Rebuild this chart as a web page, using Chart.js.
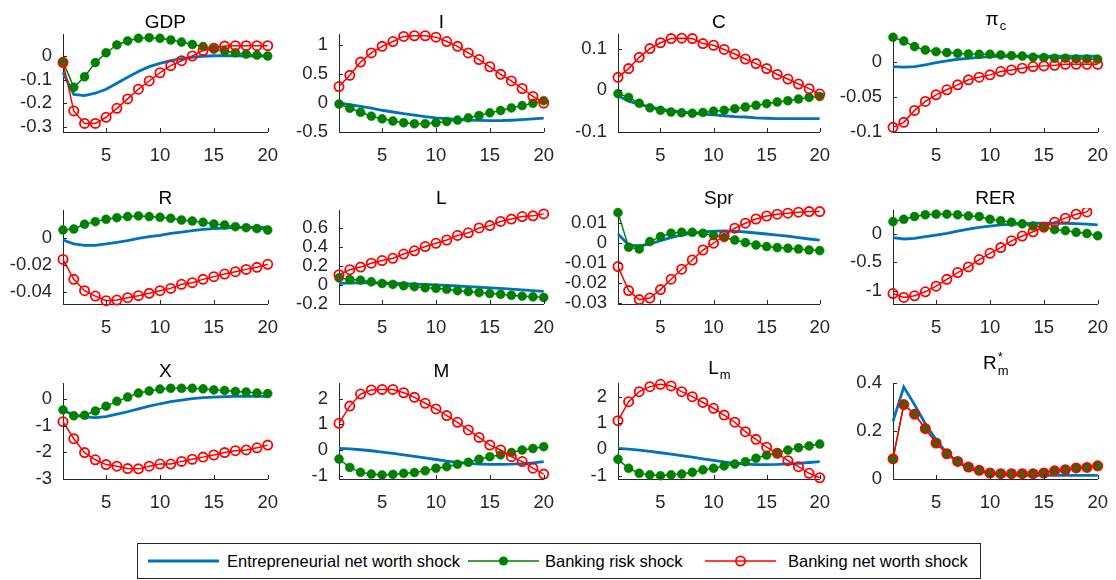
<!DOCTYPE html>
<html><head><meta charset="utf-8">
<script src="https://cdn.jsdelivr.net/npm/chart.js@4/dist/chart.umd.min.js"></script>
<style>
body{margin:0;background:#fff;width:1116px;height:580px;position:relative;overflow:hidden;font-family:'Liberation Sans',Arial,sans-serif;}
canvas{position:absolute;}
#legend{position:absolute;left:137px;top:543px;width:844px;height:36px;border:1px solid #262626;box-sizing:border-box;background:#fff;}
.lt{position:absolute;top:0;height:34px;line-height:34px;font-size:16.5px;color:#000;white-space:nowrap;}
#legend svg{position:absolute;top:0;}
</style></head><body>
<div id="legend">
  <svg style="left:10px" width="72" height="34"><line x1="0" y1="17" x2="71" y2="17" stroke="#0072BD" stroke-width="2.8"/></svg>
  <span class="lt" style="left:89px">Entrepreneurial net worth shock</span>
  <svg style="left:330px" width="72" height="34"><line x1="0" y1="17" x2="71" y2="17" stroke="#008000" stroke-width="1.5"/><circle cx="35.5" cy="17" r="4.6" fill="#008000"/></svg>
  <span class="lt" style="left:407px">Banking risk shock</span>
  <svg style="left:567px" width="72" height="34"><line x1="0" y1="17" x2="71" y2="17" stroke="#FF0000" stroke-width="1.5"/><circle cx="35.5" cy="17" r="4.6" fill="none" stroke="#FF0000" stroke-width="1.8"/></svg>
  <span class="lt" style="left:650px">Banking net worth shock</span>
</div>
<script>
// ---------------- data ----------------
const periods = [1,2,3,4,5,6,7,8,9,10,11,12,13,14,15,16,17,18,19,20];
const seriesNames = ['Entrepreneurial net worth shock','Banking risk shock','Banking net worth shock'];
const xTickValues = [5,10,15,20];

const gdpEntre = [-0.07,-0.163,-0.168,-0.158,-0.141,-0.116,-0.09,-0.066,-0.045,-0.031,-0.02,-0.011,-0.006,-0.001,0.001,0.001,0.001,0,0,0];
const gdpRisk  = [-0.024,-0.133,-0.088,-0.028,0.014,0.047,0.064,0.075,0.078,0.075,0.068,0.059,0.049,0.04,0.03,0.021,0.014,0.008,0.004,0];
const gdpNet   = [-0.028,-0.233,-0.286,-0.286,-0.26,-0.222,-0.182,-0.141,-0.106,-0.071,-0.041,-0.02,0,0.023,0.033,0.042,0.044,0.044,0.044,0.044];
const gdpTicks = [-0.3,-0.2,-0.1,0];

const iEntre = [0,-0.03,-0.06,-0.09,-0.125,-0.155,-0.185,-0.21,-0.235,-0.255,-0.27,-0.285,-0.295,-0.3,-0.303,-0.303,-0.297,-0.288,-0.275,-0.26];
const iRisk  = [-0.017,-0.09,-0.16,-0.227,-0.273,-0.31,-0.34,-0.358,-0.358,-0.34,-0.318,-0.295,-0.256,-0.216,-0.17,-0.13,-0.085,-0.045,-0.006,0.04];
const iNet   = [0.284,0.477,0.705,0.864,0.977,1.06,1.148,1.16,1.16,1.136,1.06,0.977,0.864,0.75,0.625,0.494,0.38,0.25,0.114,0];
const iTicks = [-0.5,0,0.5,1];

const cEntre = [-0.013,-0.026,-0.034,-0.04,-0.045,-0.049,-0.052,-0.055,-0.057,-0.059,-0.061,-0.063,-0.064,-0.066,-0.067,-0.068,-0.068,-0.068,-0.068,-0.068];
const cRisk  = [-0.008,-0.017,-0.031,-0.042,-0.048,-0.052,-0.054,-0.055,-0.053,-0.05,-0.048,-0.044,-0.04,-0.036,-0.032,-0.028,-0.025,-0.021,-0.017,-0.015];
const cNet   = [0.031,0.052,0.079,0.1,0.114,0.124,0.125,0.124,0.112,0.108,0.098,0.087,0.075,0.064,0.052,0.038,0.027,0.015,0.004,-0.009];
const cTicks = [-0.1,0,0.1];

const piEntre = [-0.0062,-0.0071,-0.0062,-0.0038,-0.0005,0.0019,0.0043,0.0057,0.0071,0.0081,0.0086,0.0086,0.0086,0.0086,0.0086,0.0086,0.0086,0.0086,0.0086,0.0086];
const piRisk  = [0.0357,0.0305,0.0224,0.0176,0.0152,0.0138,0.0129,0.0119,0.0114,0.0114,0.0105,0.0095,0.009,0.0071,0.0067,0.0057,0.0057,0.0048,0.0048,0.0043];
const piNet   = [-0.0933,-0.0862,-0.069,-0.0562,-0.0467,-0.0395,-0.0324,-0.0252,-0.0214,-0.0181,-0.0133,-0.011,-0.0086,-0.0062,-0.0052,-0.0043,-0.0029,-0.0029,-0.0029,-0.0029];
const piTicks = [-0.1,-0.05,0];

const rEntre = [-0.0017,-0.0046,-0.0056,-0.0056,-0.0046,-0.0034,-0.0022,-0.0005,0.0007,0.0017,0.0032,0.0041,0.0051,0.0061,0.0066,0.007,0.0075,0.0075,0.0075,0.0075];
const rRisk  = [0.0056,0.0063,0.0098,0.0117,0.0134,0.0146,0.0154,0.0159,0.0154,0.0149,0.0141,0.0129,0.0122,0.0112,0.01,0.0093,0.008,0.0073,0.0066,0.0056];
const rNet   = [-0.0159,-0.0305,-0.0388,-0.0427,-0.0461,-0.0456,-0.0439,-0.0424,-0.0407,-0.0388,-0.0371,-0.0341,-0.0329,-0.0305,-0.0285,-0.0266,-0.0249,-0.0232,-0.0217,-0.0195];
const rTicks = [-0.04,-0.02,0];

const lEntre = [0.017,0.022,0.024,0.024,0.022,0.019,0.015,0.011,0.006,0.001,-0.004,-0.01,-0.016,-0.022,-0.029,-0.036,-0.043,-0.05,-0.058,-0.066];
const lRisk  = [0.076,0.059,0.052,0.034,0.017,0.007,-0.007,-0.017,-0.028,-0.034,-0.045,-0.059,-0.069,-0.079,-0.09,-0.097,-0.107,-0.117,-0.124,-0.131];
const lNet   = [0.11,0.162,0.19,0.231,0.259,0.283,0.328,0.362,0.407,0.441,0.476,0.524,0.552,0.603,0.628,0.672,0.697,0.724,0.731,0.752];
const lTicks = [-0.2,0,0.2,0.4,0.6];

const sprEntre = [0.0043,-0.0012,-0.0017,-0.0007,0.001,0.0025,0.0038,0.0047,0.0053,0.0057,0.0058,0.0057,0.0053,0.0048,0.0043,0.0037,0.0032,0.0025,0.0018,0.0012];
const sprRisk  = [0.015,-0.0023,-0.0032,0.0005,0.003,0.0047,0.0052,0.0052,0.0047,0.0035,0.0025,0.0013,0,-0.0012,-0.002,-0.0025,-0.0028,-0.0032,-0.0037,-0.004];
const sprNet   = [-0.012,-0.024,-0.0285,-0.0277,-0.0235,-0.0183,-0.0133,-0.0087,-0.0037,-0.0003,0.0033,0.0072,0.0097,0.0118,0.0133,0.0142,0.0147,0.0152,0.0155,0.0155];
const sprTicks = [-0.03,-0.02,-0.01,0,0.01];

const rerEntre = [-0.065,-0.088,-0.076,-0.047,-0.018,0.012,0.053,0.088,0.118,0.14,0.16,0.17,0.18,0.19,0.19,0.19,0.19,0.185,0.175,0.16];
const rerRisk  = [0.22,0.26,0.31,0.34,0.35,0.35,0.34,0.32,0.31,0.26,0.235,0.21,0.18,0.14,0.12,0.08,0.06,0.03,0.01,-0.03];
const rerNet   = [-1.05,-1.12,-1.09,-1.02,-0.92,-0.8,-0.68,-0.58,-0.45,-0.34,-0.24,-0.12,-0.035,0.04,0.12,0.21,0.28,0.35,0.39,0.6];
const rerTicks = [-1,-0.5,0];

const xEntre = [-0.41,-0.61,-0.67,-0.7,-0.66,-0.57,-0.48,-0.37,-0.27,-0.18,-0.1,-0.04,0.01,0.05,0.07,0.09,0.1,0.1,0.1,0.1];
const xRisk  = [-0.41,-0.63,-0.61,-0.45,-0.27,-0.09,0.07,0.22,0.3,0.37,0.4,0.4,0.4,0.38,0.34,0.32,0.28,0.26,0.22,0.2];
const xNet   = [-0.85,-1.49,-2.01,-2.28,-2.46,-2.52,-2.61,-2.62,-2.52,-2.44,-2.44,-2.34,-2.26,-2.18,-2.1,-2.01,-1.94,-1.91,-1.83,-1.73];
const xTicks = [-3,-2,-1,0];

const mEntre = [0.06,0.04,0.01,-0.03,-0.08,-0.13,-0.19,-0.25,-0.31,-0.37,-0.43,-0.48,-0.52,-0.55,-0.56,-0.56,-0.55,-0.53,-0.5,-0.45];
const mRisk  = [-0.35,-0.68,-0.87,-0.94,-0.97,-0.95,-0.91,-0.88,-0.81,-0.71,-0.65,-0.56,-0.48,-0.36,-0.26,-0.19,-0.1,0,0.06,0.13];
const mNet   = [1.04,1.71,2.18,2.34,2.36,2.36,2.23,2.05,1.82,1.6,1.34,1.08,0.78,0.49,0.19,0,-0.26,-0.45,-0.71,-0.94];
const mTicks = [-1,0,1,2];

const lmEntre = [0.04,0.01,-0.03,-0.08,-0.13,-0.18,-0.24,-0.3,-0.36,-0.42,-0.48,-0.53,-0.56,-0.58,-0.58,-0.57,-0.55,-0.53,-0.5,-0.47];
const lmRisk  = [-0.38,-0.72,-0.91,-0.97,-1.0,-0.97,-0.94,-0.87,-0.78,-0.72,-0.63,-0.56,-0.47,-0.34,-0.22,-0.13,-0.03,0.06,0.13,0.2];
const lmNet   = [1.09,1.81,2.19,2.38,2.47,2.41,2.19,2.0,1.78,1.56,1.3,1.03,0.67,0.38,0.08,-0.15,-0.43,-0.66,-0.91,-1.08];
const lmTicks = [-1,0,1,2];

const rmEntre = [0.24,0.383,0.31,0.23,0.163,0.108,0.069,0.046,0.032,0.025,0.019,0.016,0.015,0.015,0.015,0.015,0.015,0.015,0.015,0.015];
const rmRisk  = [0.084,0.31,0.27,0.21,0.15,0.105,0.073,0.05,0.036,0.025,0.022,0.022,0.022,0.022,0.025,0.034,0.039,0.046,0.048,0.055];
const rmNet   = [0.084,0.31,0.27,0.21,0.15,0.105,0.073,0.05,0.036,0.025,0.022,0.022,0.022,0.022,0.025,0.034,0.039,0.046,0.048,0.055];
const rmTicks = [0,0.2,0.4];

// ---------------- layout ----------------
const colL = [63,339,618,893], colR = [275,551,827,1105];
const rowT = [34,210,383], rowB = [132,304,479];
const panels = [
  {title:'GDP', sub:'', sup:'', s:[gdpEntre,gdpRisk,gdpNet], t:gdpTicks, min:-0.3225, max:0.0934, r:0,c:0},
  {title:'I', sub:'', sup:'', s:[iEntre,iRisk,iNet], t:iTicks, min:-0.5, max:1.19, r:0,c:1},
  {title:'C', sub:'', sup:'', s:[cEntre,cRisk,cNet], t:cTicks, min:-0.1, max:0.135, r:0,c:2},
  {title:'\u03C0', sub:'c', sup:'', s:[piEntre,piRisk,piNet], t:piTicks, min:-0.1, max:0.0405, r:0,c:3},
  {title:'R', sub:'', sup:'', s:[rEntre,rRisk,rNet], t:rTicks, min:-0.0485, max:0.0202, r:1,c:0},
  {title:'L', sub:'', sup:'', s:[lEntre,lRisk,lNet], t:lTicks, min:-0.2, max:0.793, r:1,c:1},
  {title:'Spr', sub:'', sup:'', s:[sprEntre,sprRisk,sprNet], t:sprTicks, min:-0.0307, max:0.0163, r:1,c:2},
  {title:'RER', sub:'', sup:'', s:[rerEntre,rerRisk,rerNet], t:rerTicks, min:-1.235, max:0.424, r:1,c:3},
  {title:'X', sub:'', sup:'', s:[xEntre,xRisk,xNet], t:xTicks, min:-3, max:0.598, r:2,c:0},
  {title:'M', sub:'', sup:'', s:[mEntre,mRisk,mNet], t:mTicks, min:-1.13, max:2.61, r:2,c:1},
  {title:'L', sub:'m', sup:'', s:[lmEntre,lmRisk,lmNet], t:lmTicks, min:-1.127, max:2.52, r:2,c:2},
  {title:'R', sub:'m', sup:'*', s:[rmEntre,rmRisk,rmNet], t:rmTicks, min:0, max:0.4, r:2,c:3},
];

const AX = '#262626';
const FONT = "'Liberation Sans', Arial, sans-serif";
const TICK_FS = 18.5, TITLE_FS = 19, SUB_FS = 13;
const YW = 62, XH = 42, PT = 40, PR = 16;

const decor = {
  id: 'decor',
  afterDraw(chart, args, o) {
    const ctx = chart.ctx, a = chart.chartArea;
    const xs = chart.scales.x, ys = chart.scales.y;
    ctx.save();
    ctx.strokeStyle = AX; ctx.lineWidth = 1;
    xs.ticks.forEach(t => { const p = Math.round(xs.getPixelForValue(t.value)) + 0.5;
      ctx.beginPath(); ctx.moveTo(p, a.bottom); ctx.lineTo(p, a.bottom - 4); ctx.stroke(); });
    ys.ticks.forEach(t => { const p = Math.round(ys.getPixelForValue(t.value)) + 0.5;
      ctx.beginPath(); ctx.moveTo(a.left, p); ctx.lineTo(a.left + 4, p); ctx.stroke(); });
    // title
    ctx.fillStyle = '#000';
    ctx.textBaseline = 'alphabetic';
    ctx.textAlign = 'left';
    ctx.font = TITLE_FS + 'px ' + FONT;
    const wMain = ctx.measureText(o.title).width;
    ctx.font = SUB_FS + 'px ' + FONT;
    const wS = Math.max(o.sub ? ctx.measureText(o.sub).width : 0, o.sup ? ctx.measureText(o.sup).width : 0);
    const cx = (a.left + a.right) / 2;
    const x0 = cx - (wMain + wS) / 2;
    let base = a.top - 6.3;
    if (o.sup) base = a.top - 14.5; else if (o.sub) base = a.top - 9.5;
    ctx.font = TITLE_FS + 'px ' + FONT;
    ctx.fillText(o.title, x0, base);
    ctx.font = SUB_FS + 'px ' + FONT;
    if (o.sub) ctx.fillText(o.sub, x0 + wMain + 1, base + (o.sup ? 6.5 : 5.5));
    if (o.sup) ctx.fillText(o.sup, x0 + wMain + 1, base - 8);
    ctx.restore();
  }
};

panels.forEach(p => {
  const L = colL[p.c], R = colR[p.c], T = rowT[p.r], B = rowB[p.r];
  const cv = document.createElement('canvas');
  const W = YW + (R - L) + PR, H = PT + (B - T) + XH;
  cv.width = W; cv.height = H;
  cv.style.left = (L - YW) + 'px'; cv.style.top = (T - PT) + 'px';
  cv.style.width = W + 'px'; cv.style.height = H + 'px';
  document.body.appendChild(cv);
  const mk = arr => arr.map((v, i) => ({x: periods[i], y: v}));
  new Chart(cv, {
    type: 'line',
    data: { datasets: [
      { label: seriesNames[0], data: mk(p.s[0]), borderColor: '#0072BD', borderWidth: 2.8, pointRadius: 0, order: 3, clip: 8 },
      { label: seriesNames[1], data: mk(p.s[1]), borderColor: '#008000', borderWidth: 1.5, pointRadius: 4.5,
        pointBackgroundColor: '#008000', pointBorderColor: '#008000', pointBorderWidth: 0.5, order: 2, clip: 8 },
      { label: seriesNames[2], data: mk(p.s[2]), borderColor: '#FF0000', borderWidth: 1.5, pointRadius: 4.6,
        pointBackgroundColor: 'rgba(0,0,0,0)', pointBorderColor: '#FF0000', pointBorderWidth: 1.8, order: 1,
        clip: (p.title === 'RER') ? {left: 8, right: 8, top: 2, bottom: 8} : 8 },
    ]},
    options: {
      responsive: false, animation: false, devicePixelRatio: 1,
      layout: { padding: { left: 0, top: PT, right: PR, bottom: 0 } },
      elements: { line: { tension: 0 } },
      plugins: { legend: { display: false }, tooltip: { enabled: false }, title: { display: false },
        decor: { title: p.title, sub: p.sub, sup: p.sup } },
      scales: {
        x: { type: 'linear', min: 1, max: 20,
          afterBuildTicks: ax => { ax.ticks = xTickValues.map(v => ({value: v})); },
          afterFit: sc => { sc.height = XH; },
          grid: { display: false, drawTicks: false }, border: { display: true, color: AX, width: 1 },
          ticks: { autoSkip: false, maxRotation: 0, padding: 13, color: AX, font: { family: FONT, size: TICK_FS }, callback: v => String(v) } },
        y: { type: 'linear', min: p.min, max: p.max,
          afterBuildTicks: ax => { ax.ticks = p.t.map(v => ({value: v})); },
          afterFit: sc => { sc.width = YW; },
          grid: { display: false, drawTicks: false }, border: { display: true, color: AX, width: 1 },
          ticks: { autoSkip: false, padding: 11, color: AX, font: { family: FONT, size: TICK_FS }, callback: v => String(v) } }
      }
    },
    plugins: [decor]
  });
});
</script>
</body></html>
